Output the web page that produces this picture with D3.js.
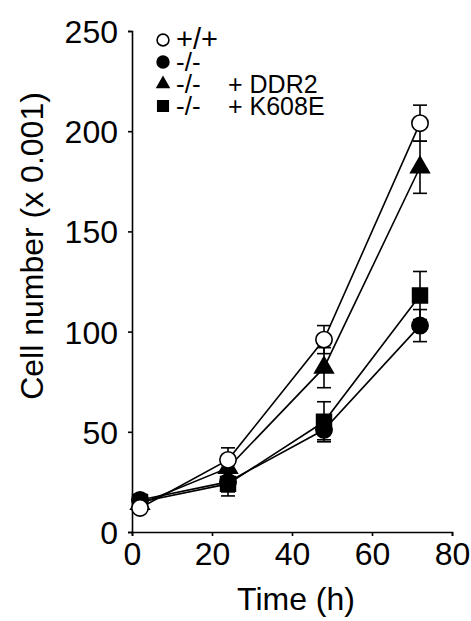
<!DOCTYPE html>
<html>
<head>
<meta charset="utf-8">
<script src="https://cdn.jsdelivr.net/npm/d3@7"></script>
<style>
  body { margin: 0; background: #fff; }
  text { font-family: "Liberation Sans", Arial, sans-serif; fill: #000; }
</style>
</head>
<body>
<div id="chart"></div>
<script>
var times = [2, 24, 48, 72];

var wt = [12, 36, 96, 204];
var wtErr = [2, 6, 7, 9];
var ko = [16, 25, 51, 103];
var koErr = [2, 5, 5, 8];
var ddr2 = [14, 32, 82, 182];
var ddr2Err = [2, 6, 10, 13];
var k608e = [15, 24, 55, 118];
var k608eErr = [2, 6, 10, 12];

var xTicks = [0, 20, 40, 60, 80];
var yTicks = [0, 50, 100, 150, 200, 250];

var series = [
  { name: "+/+", extra: "", values: wt, err: wtErr, shape: "circle", fill: "#fff" },
  { name: "-/-", extra: "", values: ko, err: koErr, shape: "circle", fill: "#000" },
  { name: "-/-", extra: "+ DDR2", values: ddr2, err: ddr2Err, shape: "triangle", fill: "#000" },
  { name: "-/-", extra: "+ K608E", values: k608e, err: k608eErr, shape: "square", fill: "#000" }
];

var width = 471,
    height = 621;

var x = d3.scaleLinear().domain([0, 80]).range([132, 452]);
var y = d3.scaleLinear().domain([0, 250]).range([532, 31]);

var svg = d3.select("#chart")
    .append("svg")
    .attr("width", width)
    .attr("height", height);

// axes
var xAxis = svg.append("g")
    .attr("transform", "translate(0," + y(0) + ")")
    .call(d3.axisBottom(x).tickValues(xTicks).tickSizeOuter(0).tickSize(4).tickPadding(6));
var yAxis = svg.append("g")
    .attr("transform", "translate(" + x(0) + ",0)")
    .call(d3.axisLeft(y).tickValues(yTicks).tickSizeOuter(0).tickSize(4).tickPadding(10));

svg.selectAll(".domain, .tick line").attr("stroke", "#000").attr("stroke-width", 1.6);
svg.selectAll(".tick text")
    .style("font-size", "32px")
    .style("font-family", "'Liberation Sans', Arial, sans-serif");
yAxis.selectAll(".tick text").attr("dy", "0.36em");

svg.append("text")
    .attr("x", 296)
    .attr("y", 610)
    .attr("text-anchor", "middle")
    .style("font-size", "32px")
    .text("Time (h)");

svg.append("text")
    .attr("transform", "translate(43," + 246 + ") rotate(-90)")
    .attr("text-anchor", "middle")
    .style("font-size", "32px")
    .text("Cell number (x 0.001)");

function symbolPath(shape, size) {
  var t = shape === "circle" ? d3.symbolCircle : shape === "triangle" ? d3.symbolTriangle : d3.symbolSquare;
  return d3.symbol().type(t).size(size)();
}
var markSize = { circle: 210, triangle: 150, square: 220 };

var line = d3.line()
    .x(function (d) { return x(d.t); })
    .y(function (d) { return y(d.v); });

function pts(s) {
  return times.map(function (t, i) { return { t: t, v: s.values[i], e: s.err[i] }; });
}

// lines
series.forEach(function (s) {
  svg.append("path")
      .datum(pts(s))
      .attr("d", line)
      .attr("fill", "none")
      .attr("stroke", "#000")
      .attr("stroke-width", 1.6);
});

// error bars
series.forEach(function (s) {
  var g = svg.append("g").attr("stroke", "#000").attr("stroke-width", 1.6);
  var p = pts(s);
  g.selectAll(".bar").data(p).enter().append("line")
      .attr("x1", function (d) { return x(d.t); })
      .attr("x2", function (d) { return x(d.t); })
      .attr("y1", function (d) { return y(d.v - d.e); })
      .attr("y2", function (d) { return y(d.v + d.e); });
  g.selectAll(".capTop").data(p).enter().append("line")
      .attr("x1", function (d) { return x(d.t) - 7; })
      .attr("x2", function (d) { return x(d.t) + 7; })
      .attr("y1", function (d) { return y(d.v + d.e); })
      .attr("y2", function (d) { return y(d.v + d.e); });
  g.selectAll(".capBot").data(p).enter().append("line")
      .attr("x1", function (d) { return x(d.t) - 7; })
      .attr("x2", function (d) { return x(d.t) + 7; })
      .attr("y1", function (d) { return y(d.v - d.e); })
      .attr("y2", function (d) { return y(d.v - d.e); });
});

// markers (filled ones first, open circle on top)
[1, 2, 3, 0].forEach(function (k) {
  var s = series[k];
  svg.selectAll(null).data(pts(s)).enter().append("path")
      .attr("d", symbolPath(s.shape, markSize[s.shape]))
      .attr("transform", function (d) { return "translate(" + x(d.t) + "," + y(d.v) + ")"; })
      .attr("fill", s.fill)
      .attr("stroke", "#000")
      .attr("stroke-width", 1.6);
});

// legend
var legY = [40, 62, 84, 106];
var legSize = { circle: 110, triangle: 60, square: 110 };
series.forEach(function (s, i) {
  svg.append("path")
      .attr("d", symbolPath(s.shape, legSize[s.shape]))
      .attr("transform", "translate(163," + legY[i] + ")")
      .attr("fill", s.fill)
      .attr("stroke", "#000")
      .attr("stroke-width", 1.6);
  svg.append("text")
      .attr("x", 176)
      .attr("y", legY[i] + 9)
      .style("font-size", i === 0 ? "29px" : "26px")
      .text(s.name);
  if (s.extra) {
    svg.append("text")
        .attr("x", 228)
        .attr("y", legY[i] + 9)
        .style("font-size", "25px")
        .text(s.extra);
  }
});
</script>
</body>
</html>
